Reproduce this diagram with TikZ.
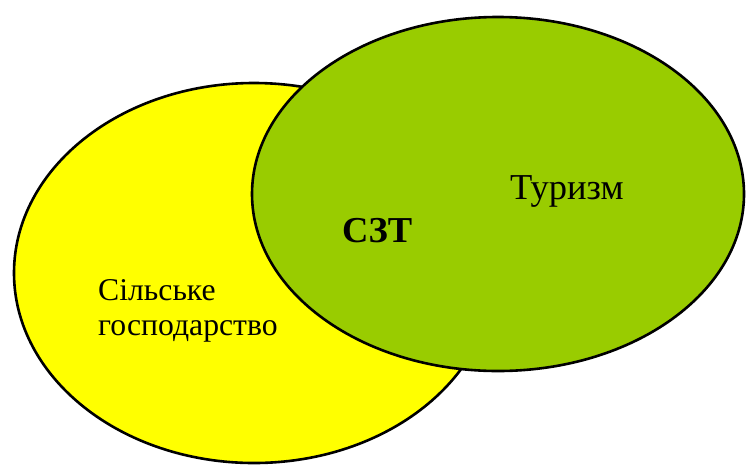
\documentclass[tikz,border=0pt]{standalone}
\usepackage{fontspec}
\setmainfont{Liberation Serif}
\definecolor{agri}{HTML}{FFFF00}
\definecolor{tour}{HTML}{99CC00}
\begin{document}
\begin{tikzpicture}[x=1pt,y=-1pt,
  venn/.style={draw=black,line width=2.6pt},
  lbl/.style={inner sep=0pt,align=left}]
\useasboundingbox (0,0) rectangle (746,464);
\filldraw[venn,fill=agri] (254,273) ellipse [x radius=240,y radius=190];
\filldraw[venn,fill=tour] (498,194) ellipse [x radius=246,y radius=177];
\node[lbl,anchor=base west,font=\fontsize{36.5}{40}\selectfont] (t) at (510,199) {Туризм};
\node[lbl,anchor=base west,font=\fontsize{36.5}{40}\selectfont\bfseries] (s) at (342,242) {СЗТ};
\node[lbl,anchor=base west,font=\fontsize{31.7}{35}\selectfont] (a1) at (98,300) {Сільське};
\node[lbl,anchor=base west,font=\fontsize{31.7}{35}\selectfont] (a2) at (98,335) {господарство};
\end{tikzpicture}
\end{document}
